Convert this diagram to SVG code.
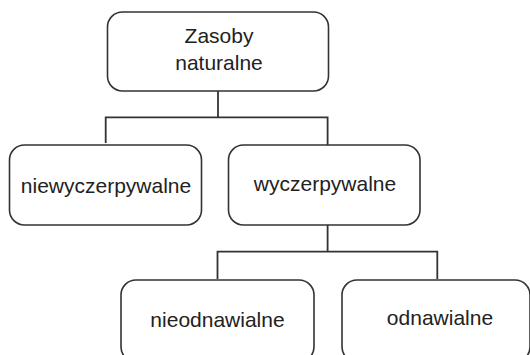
<svg xmlns="http://www.w3.org/2000/svg" width="530" height="355" viewBox="0 0 530 355">
<style>
.box{fill:#fff;stroke:#333;stroke-width:1.6}
.lbl{font-family:"Liberation Sans",Arial,sans-serif;font-size:21px;fill:#222;text-anchor:middle}
.con{fill:none;stroke:#333;stroke-width:1.8}
</style>
<rect width="530" height="355" fill="#fff"/>
<g id="connectors">
<path class="con" d="M218 91 V117.3 M105.7 143 V117.3 H327.6 V145"/>
<path class="con" d="M327.6 225 V251.7 M217.5 279 V251.7 H437.3 V279"/>
</g>
<g id="zasoby">
<rect class="box" x="107.5" y="12" width="221" height="79" rx="15"/>
<text class="lbl" x="219" y="43">Zasoby</text>
<text class="lbl" x="219" y="70">naturalne</text>
</g>
<g id="niewyczerpywalne">
<rect class="box" x="9.5" y="145" width="192" height="80" rx="15"/>
<text class="lbl" x="106" y="193">niewyczerpywalne</text>
</g>
<g id="wyczerpywalne">
<rect class="box" x="228.5" y="145" width="191.5" height="80" rx="15"/>
<text class="lbl" x="325" y="191">wyczerpywalne</text>
</g>
<g id="nieodnawialne">
<rect class="box" x="121" y="280" width="193" height="82" rx="15"/>
<text class="lbl" x="217.5" y="327">nieodnawialne</text>
</g>
<g id="odnawialne">
<rect class="box" x="342" y="280" width="188" height="82" rx="15"/>
<text class="lbl" x="440" y="325">odnawialne</text>
</g>
</svg>
